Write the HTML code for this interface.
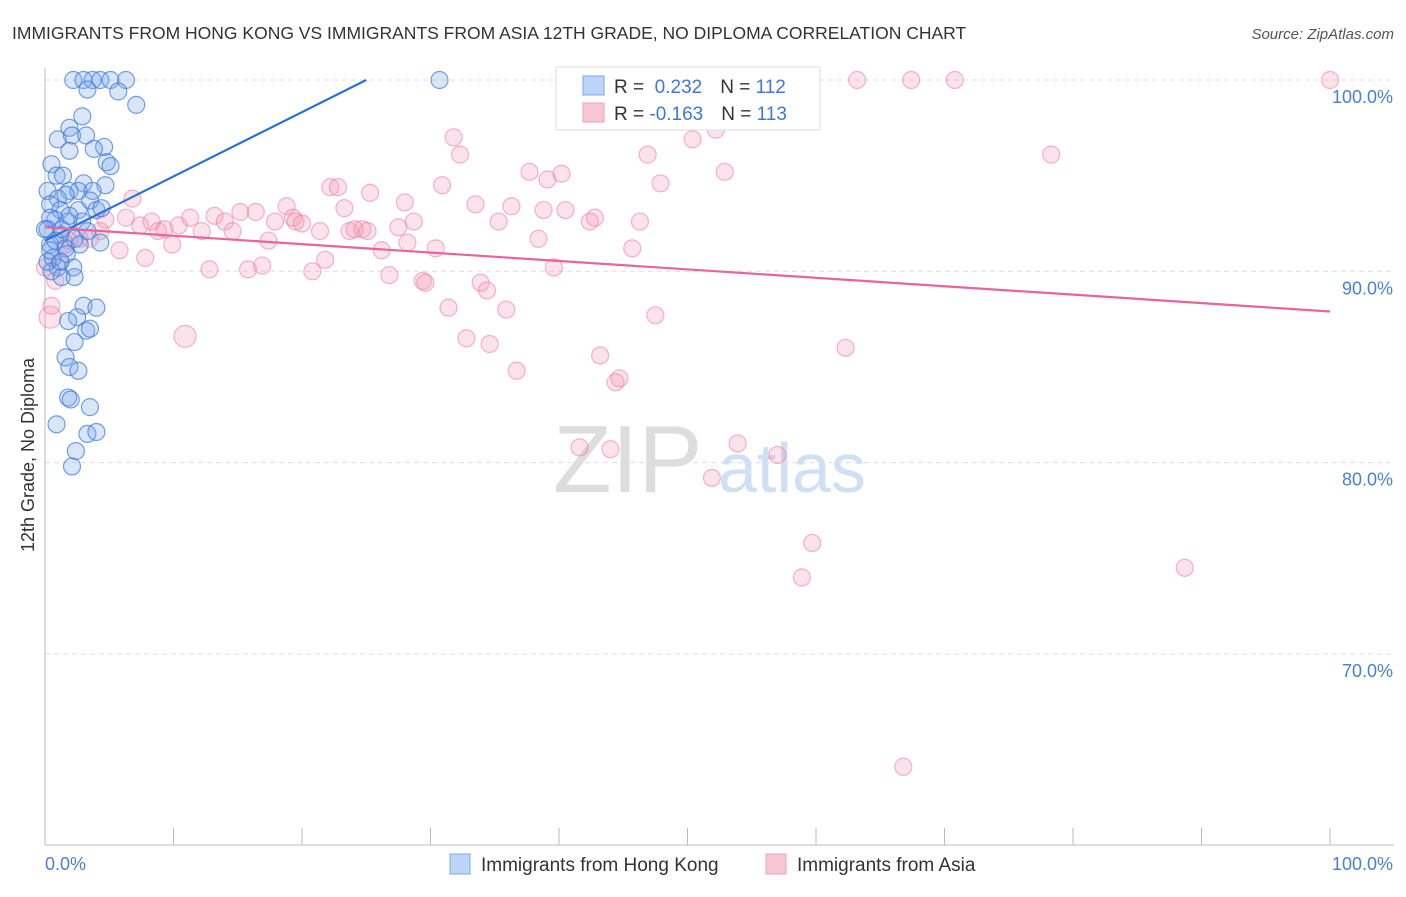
<!DOCTYPE html>
<html><head><meta charset="utf-8"><style>
body{margin:0;background:#fff;font-family:"Liberation Sans",sans-serif}
svg text{font-family:"Liberation Sans",sans-serif}
</style></head><body>
<svg id="c" width="1406" height="892" viewBox="0 0 1406 892">
<text x="12" y="39" font-size="17.5" fill="#333">IMMIGRANTS FROM HONG KONG VS IMMIGRANTS FROM ASIA 12TH GRADE, NO DIPLOMA CORRELATION CHART</text>
<text x="1394" y="39" font-size="15" fill="#555" font-style="italic" text-anchor="end">Source: ZipAtlas.com</text>
<g>
<text x="553" y="492" font-size="96" fill="#ddd" font-family="Liberation Serif">ZIP</text>
<text x="718" y="492" font-size="70" fill="#cfe0f5">atlas</text>
</g>
<g id="grid"></g>
<g id="axes"></g>
<g id="pts"></g>
<g id="lines"></g>
<text transform="translate(34,455) rotate(-90)" font-size="18" fill="#333" text-anchor="middle">12th Grade, No Diploma</text>
<g>
<rect x="556" y="67" width="264" height="63" fill="#fff" stroke="#ddd"/>
<rect x="583" y="76" width="21" height="19" fill="#bcd4f6" stroke="#7aa7e8"/>
<rect x="583" y="103" width="21" height="19" fill="#f9c6d6" stroke="#eea0b9"/>
<text x="614" y="93" font-size="19" fill="#333">R = <tspan fill="#3f78d6">&#160;0.232</tspan><tspan dx="18">N = </tspan><tspan fill="#3f78d6">112</tspan></text>
<text x="614" y="120" font-size="19" fill="#333">R = <tspan fill="#3f78d6">-0.163</tspan><tspan dx="18">N = </tspan><tspan fill="#3f78d6">113</tspan></text>
</g>
<g>
<rect x="450" y="854" width="20" height="20" fill="#bcd4f6" stroke="#7aa7e8"/>
<text x="481" y="871" font-size="19" fill="#333">Immigrants from Hong Kong</text>
<rect x="766" y="854" width="20" height="20" fill="#f9c6d6" stroke="#eea0b9"/>
<text x="797" y="871" font-size="19" fill="#333">Immigrants from Asia</text>
</g>
</svg>
<script>
const yTicks=[100,90,80,70];
const yTickLabels=["100.0%","90.0%","80.0%","70.0%"];
const xTickCount=10;
const xLabels=["0.0%","100.0%"];
const blueX=[2.2,3.0,3.7,4.3,5.1,6.3,3.3,5.7,7.1,2.9,1.9,1.0,2.1,3.2,4.6,1.9,3.8,0.5,4.8,5.1,0.9,1.4,3.0,4.7,0.2,1.9,2.6,3.7,1.0,1.6,3.5,0.4,1.2,2.6,4.0,4.4,0.8,0.4,1.8,2.9,0.2,1.2,2.3,3.3,0.4,1.6,2.7,4.3,0.6,1.7,1.0,2.2,0.5,1.3,2.3,0.2,3.0,4.0,2.5,1.8,3.2,3.5,2.3,1.6,1.9,2.6,1.8,2.0,3.5,0.9,3.3,4.0,2.4,2.1,1.2,0.8,0,0.4,1.3,1.9,30.7];
const blueY=[100,100,100,100,100,100,99.5,99.4,98.7,98.1,97.5,96.9,97.1,97.1,96.5,96.3,96.4,95.6,95.7,95.5,95.0,95.0,94.6,94.5,94.2,94.2,94.2,94.2,93.8,94.0,93.7,93.5,93.2,93.2,93.2,93.3,92.7,92.8,92.6,92.6,92.2,91.9,91.7,92.1,91.4,91.2,91.4,91.5,90.7,90.9,90.2,90.2,90.0,89.7,89.7,90.5,88.2,88.1,87.6,87.4,86.9,87.0,86.3,85.5,85.0,84.8,83.4,83.3,82.9,82.0,81.5,81.6,80.6,79.8,90.5,91.6,92.2,91.1,92.2,92.9,100];
const pinkX=[0,0.4,0.5,0.8,1.2,1.6,1.9,2.7,3.5,4.3,4.7,5.8,6.8,6.3,7.4,8.3,7.8,8.8,9.3,9.9,10.9,10.4,11.3,12.2,12.8,13.2,14.0,14.6,15.2,15.8,16.4,16.9,17.4,17.9,18.8,19.3,19.5,20.0,20.8,21.4,21.8,22.2,22.8,23.3,23.7,24.1,24.7,25.1,25.3,26.2,26.8,27.5,28.0,28.2,28.7,29.4,29.6,30.4,30.9,31.4,31.8,32.3,32.8,33.5,33.9,34.4,34.6,35.3,35.9,36.3,36.7,37.7,38.4,38.8,39.1,39.6,40.2,40.5,41.6,42.4,42.8,43.2,44.0,44.4,44.7,45.7,46.3,46.9,47.5,47.9,50.4,51.9,52.2,52.9,53.9,54.5,57.0,58.9,59.7,62.3,63.2,66.8,67.4,70.8,78.3,88.7,100];
const pinkY=[90.2,87.6,88.2,89.5,90.5,91.4,91.6,91.7,91.7,92.1,92.7,91.1,93.8,92.8,92.4,92.6,90.7,92.1,92.2,91.4,86.6,92.4,92.8,92.1,90.1,92.9,92.6,92.1,93.1,90.1,93.1,90.3,91.6,92.6,93.4,92.8,92.6,92.5,90.0,92.1,90.6,94.4,94.4,93.3,92.1,92.2,92.2,92.1,94.1,91.1,89.8,92.3,93.6,91.5,92.6,89.5,89.4,91.2,94.5,88.1,97.0,96.1,86.5,93.5,89.4,89.0,86.2,92.6,88.0,93.4,84.8,95.2,91.7,93.2,94.8,90.2,95.1,93.2,80.8,92.6,92.8,85.6,80.7,84.2,84.4,91.2,92.6,96.1,87.7,94.6,96.9,79.2,97.4,95.2,81.0,100,80.4,74.0,75.8,86.0,100,64.1,100,100,96.1,74.5,100];
const blueTrend=[[0,91.6],[25,100]];
const pinkTrend=[[0,92.3],[100,87.9]];
const NS="http://www.w3.org/2000/svg";
const X0=45,X1=1330,YTOP=80;
function sx(p){return X0+p*(X1-X0)/100;}
function sy(v){return YTOP+(100-v)*19.13;}
function mk(t,a,parent){const e=document.createElementNS(NS,t);for(const k in a)e.setAttribute(k,a[k]);parent.appendChild(e);return e;}
const grid=document.getElementById('grid'),axes=document.getElementById('axes'),pts=document.getElementById('pts'),lines=document.getElementById('lines');
yTicks.forEach((v,i)=>{
 const l=mk('line',{x1:X0,x2:1394,y1:sy(v),y2:sy(v),stroke:'#ddd','stroke-dasharray':'5,4'},grid);
 
 
 const t=mk('text',{x:1393,y:sy(v)+23,'font-size':18,fill:'#4a7fd6','text-anchor':'end'},axes);
 t.textContent=yTickLabels[i];
 
 
});
const ya=mk('line',{x1:X0,x2:X0,y1:68,y2:845,stroke:'#bbb'},axes);


const xa=mk('line',{x1:X0,x2:1394,y1:845,y2:845,stroke:'#bbb'},axes);


for(let i=0;i<=xTickCount;i++){
 const x=sx(i*100/xTickCount);
 const tk=mk('line',{x1:x,x2:x,y1:828,y2:845,stroke:'#bbb'},axes);
 
 
}
const xl0=mk('text',{x:X0,y:870,'font-size':18,fill:'#4a7fd6'},axes);xl0.textContent=xLabels[0];


const xl1=mk('text',{x:1393,y:870,'font-size':18,fill:'#4a7fd6','text-anchor':'end'},axes);xl1.textContent=xLabels[1];


pinkX.forEach((p,i)=>{
 const big=(i===1||i===20);
 const c=mk('circle',{cx:sx(p),cy:sy(pinkY[i]),r:big?11:8.5,fill:'rgba(244,150,180,0.28)',stroke:'rgba(236,120,160,0.55)','stroke-width':1.2},pts);
 
 
});
blueX.forEach((p,i)=>{
 const c=mk('circle',{cx:sx(p),cy:sy(blueY[i]),r:8.5,fill:'rgba(120,165,235,0.28)',stroke:'rgba(60,120,220,0.7)','stroke-width':1.2},pts);
 
 
});
const bl=mk('line',{x1:sx(blueTrend[0][0]),y1:sy(blueTrend[0][1]),x2:sx(blueTrend[1][0]),y2:sy(blueTrend[1][1]),stroke:'#2f6fd8','stroke-width':2.2},lines);


const pl=mk('line',{x1:sx(pinkTrend[0][0]),y1:sy(pinkTrend[0][1]),x2:sx(pinkTrend[1][0]),y2:sy(pinkTrend[1][1]),stroke:'#e8649a','stroke-width':2.2},lines);


</script>
</body></html>
